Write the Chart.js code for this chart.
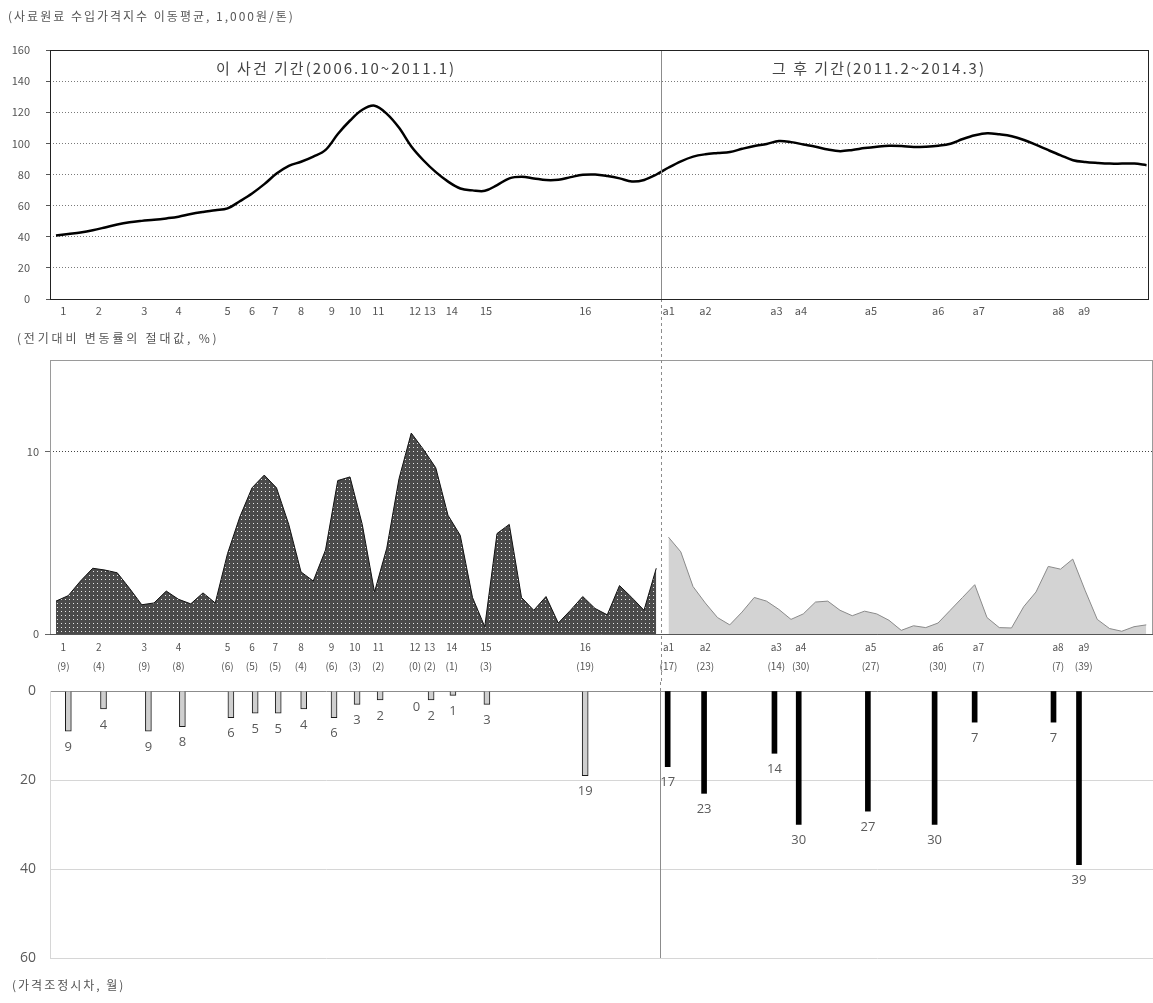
<!DOCTYPE html>
<html>
<head>
<meta charset="utf-8">
<script src="https://cdn.jsdelivr.net/npm/chart.js@4.4.0/dist/chart.umd.min.js"></script>
<style>
  html, body { margin: 0; padding: 0; background: #fff; }
  #wrap { position: relative; width: 1153px; height: 1003px; overflow: hidden; background: #fff; }
  #wrap canvas { position: absolute; left: 0; }
  #cPrice { top: 0; }
  #cChange { top: 330px; }
  #cLag { top: 682px; }
</style>
</head>
<body>
<div id="wrap">
  <canvas id="cPrice" width="1153" height="330"></canvas>
  <canvas id="cChange" width="1153" height="352"></canvas>
  <canvas id="cLag" width="1153" height="321"></canvas>
</div>
<script>
// Monthly moving-average feed import price index, 2006.10 ~ 2014.3 (month index 0..89)
const priceIndex = [
  40.8, 41.8, 42.8, 44.2, 46.0, 47.9, 49.3, 50.2, 50.9, 51.8,
  52.9, 54.6, 55.9, 57.0, 58.2, 62.8, 67.8, 73.8, 80.6, 85.6,
  88.2, 91.5, 95.8, 106.0, 114.7, 121.6, 124.2, 119.0, 110.0, 98.0,
  89.0, 81.5, 75.4, 71.0, 69.8, 69.5, 73.2, 77.5, 78.5, 77.5,
  76.4, 76.6, 78.3, 79.8, 80.0, 79.0, 77.5, 75.5, 76.5, 80.0,
  84.5, 88.5, 91.5, 93.0, 93.8, 94.5, 96.5, 98.3, 99.6, 101.5,
  100.8, 99.3, 97.8, 96.0, 95.0, 95.8, 97.0, 97.9, 98.5, 98.3,
  97.7, 97.9, 98.5, 99.8, 102.8, 105.2, 106.5, 105.8, 104.6, 102.2,
  99.0, 95.6, 92.3, 89.2, 88.0, 87.4, 87.0, 87.0, 87.0, 86.0
];

// Absolute month-on-month change (%), case period (months 0..49) and later period (months 50..89)
const changeBefore = [
  1.8, 2.1, 2.9, 3.6, 3.5, 3.35, 2.5, 1.6, 1.7, 2.35,
  1.9, 1.65, 2.25, 1.7, 4.4, 6.4, 8.0, 8.7, 8.0, 6.0,
  3.4, 2.9, 4.6, 8.4, 8.6, 6.0, 2.3, 4.7, 8.5, 11.0,
  10.1, 9.1, 6.5, 5.4, 2.0, 0.4, 5.5, 6.0, 2.0, 1.3,
  2.05, 0.6, 1.3, 2.05, 1.4, 1.05, 2.65, 2.0, 1.3, 3.6
];
const changeAfter = [
  5.3, 4.5, 2.6, 1.7, 0.9, 0.5, 1.2, 2.0, 1.8, 1.35,
  0.8, 1.1, 1.75, 1.8, 1.3, 1.0, 1.25, 1.1, 0.75, 0.2,
  0.45, 0.35, 0.6, 1.3, 2.0, 2.7, 0.9, 0.35, 0.33, 1.5,
  2.3, 3.7, 3.55, 4.1, 2.4, 0.8, 0.3, 0.15, 0.4, 0.5
];
const afterStart = 50;

// Price adjustments: timing (month index), label and lag (months)
const eventLabelsBefore = ['1','2','3','4','5','6','7','8','9','10','11','12','13','14','15','16'];
const eventPosBefore = [0.6, 3.5, 7.2, 10.0, 14.0, 16.0, 17.9, 20.0, 22.5, 24.4, 26.3, 29.3, 30.5, 32.3, 35.1, 43.2];
const lagBefore = [9, 4, 9, 8, 6, 5, 5, 4, 6, 3, 2, 0, 2, 1, 3, 19];

const eventLabelsAfter = ['a1','a2','a3','a4','a5','a6','a7','a8','a9'];
const eventPosAfter = [50.0, 53.0, 58.8, 60.8, 66.5, 72.0, 75.3, 81.8, 83.9];
const lagAfter = [17, 23, 14, 30, 27, 30, 7, 7, 39];

// Boundary between the two periods (month index)
const periodSplit = 49.4;

const priceTicks = [0, 20, 40, 60, 80, 100, 120, 140, 160];
const changeTicks = [0, 10];
const lagTicks = [0, 20, 40, 60];

const headerPrice = '(사료원료 수입가격지수 이동평균, 1,000원/톤)';
const periodTitles = ['이 사건 기간(2006.10~2011.1)', '그 후 기간(2011.2~2014.3)'];
const headerChange = '(전기대비 변동률의 절대값, %)';
const headerLag = '(가격조정시차, 월)';

// ---------------------------------------------------------------
const SANS = "'Noto Sans CJK KR', 'DejaVu Sans', sans-serif";
const OPEN = "'Open Sans', 'DejaVu Sans', sans-serif";
const allEventPos = eventPosBefore.concat(eventPosAfter);
const allEventLabels = eventLabelsBefore.concat(eventLabelsAfter);
const allLags = lagBefore.concat(lagAfter);

const common = {
  responsive: false,
  animation: false,
  events: [],
  plugins: { legend: { display: false }, tooltip: { enabled: false } }
};

function dividerX(chart) {
  return Math.round(chart.scales.x.getPixelForValue(periodSplit)) + 0.5;
}

function drawHeader(ctx, text, x, y, size, spacing) {
  ctx.save();
  ctx.fillStyle = '#555';
  ctx.font = size + 'px ' + SANS;
  ctx.letterSpacing = spacing + 'px';
  ctx.textAlign = 'left';
  ctx.textBaseline = 'middle';
  ctx.fillText(text, x, y);
  ctx.restore();
}

// fixed axis box: no extra room reserved for overhanging tick labels
function fixVertical(width) {
  return s => { s.width = width; s.paddingTop = 0; s.paddingBottom = 0; };
}

// ---------------- Top panel: price index line ----------------
const priceDecor = {
  id: 'priceDecor',
  afterDatasetsDraw(chart) {
    const { ctx, chartArea: a } = chart;
    const dx = dividerX(chart);
    ctx.save();
    ctx.lineWidth = 1;
    ctx.strokeStyle = '#8c8c8c';
    ctx.beginPath(); ctx.moveTo(dx, a.top); ctx.lineTo(dx, a.bottom); ctx.stroke();
    ctx.setLineDash([3, 3]);
    ctx.beginPath(); ctx.moveTo(dx, a.bottom); ctx.lineTo(dx, chart.height); ctx.stroke();
    ctx.setLineDash([]);
    ctx.strokeStyle = '#222';
    ctx.strokeRect(Math.round(a.left) + 0.5, Math.round(a.top) + 0.5,
                   Math.round(a.right - a.left) - 1, Math.round(a.bottom - a.top));
    ctx.fillStyle = '#444';
    ctx.font = '15px ' + SANS;
    ctx.letterSpacing = '2px';
    ctx.textAlign = 'center';
    ctx.textBaseline = 'middle';
    ctx.fillText(periodTitles[0], a.left + 286, a.top + 18);
    ctx.fillText(periodTitles[1], a.left + 829, a.top + 18);
    ctx.restore();
    drawHeader(ctx, headerPrice, 8, 16, 12, 2);
  }
};

new Chart(document.getElementById('cPrice'), {
  type: 'line',
  data: {
    datasets: [{
      data: priceIndex.map((v, i) => ({ x: i, y: v })),
      borderColor: '#000',
      borderWidth: 2.5,
      pointRadius: 0,
      tension: 0.35,
      fill: false
    }]
  },
  options: {
    ...common,
    layout: { padding: { left: 0, right: 4, top: 50, bottom: 0 } },
    scales: {
      x: {
        type: 'linear', min: -0.49, max: 89.2,
        afterBuildTicks: s => { s.ticks = allEventPos.map(v => ({ value: v })); },
        afterFit: s => { s.height = 31; },
        ticks: {
          autoSkip: false, maxRotation: 0, padding: -3,
          color: '#555', font: { family: SANS, size: 11 },
          callback: (v, i) => allEventLabels[i]
        },
        grid: { display: false },
        border: { display: false }
      },
      y: {
        min: 0, max: 160,
        afterBuildTicks: s => { s.ticks = priceTicks.map(v => ({ value: v })); },
        afterFit: fixVertical(50),
        ticks: { padding: 16, color: '#555', font: { family: SANS, size: 11 } },
        grid: { color: '#7a7a7a', tickLength: 4, tickColor: '#555', tickBorderDash: [] },
        border: { display: false, dash: [1, 2] }
      }
    }
  },
  plugins: [priceDecor]
});

// ---------------- Middle panel: change rate areas ----------------
const tile = document.createElement('canvas');
tile.width = 4; tile.height = 4;
const tctx = tile.getContext('2d');
tctx.fillStyle = '#4a4a4a'; tctx.fillRect(0, 0, 4, 4);
tctx.fillStyle = '#e6e6e6'; tctx.fillRect(1, 1, 1, 1);
const dotted = document.createElement('canvas').getContext('2d').createPattern(tile, 'repeat');

const changeDecor = {
  id: 'changeDecor',
  beforeDatasetsDraw(chart) {
    const { ctx, chartArea: a } = chart;
    ctx.save();
    ctx.strokeStyle = '#9a9a9a';
    ctx.lineWidth = 1;
    ctx.strokeRect(Math.round(a.left) + 0.5, Math.round(a.top) + 0.5,
                   Math.round(a.right - a.left) - 1, Math.round(a.bottom - a.top));
    ctx.restore();
  },
  afterDatasetsDraw(chart) {
    const { ctx, chartArea: a } = chart;
    const dx = dividerX(chart);
    ctx.save();
    ctx.strokeStyle = '#8c8c8c';
    ctx.lineWidth = 1;
    ctx.setLineDash([3, 3]);
    ctx.beginPath(); ctx.moveTo(dx, 0); ctx.lineTo(dx, chart.height); ctx.stroke();
    ctx.setLineDash([]);
    ctx.strokeStyle = '#555';
    ctx.beginPath(); ctx.moveTo(a.left, Math.round(a.bottom) + 0.5); ctx.lineTo(a.right, Math.round(a.bottom) + 0.5); ctx.stroke();
    ctx.restore();
    drawHeader(ctx, headerChange, 17, 8, 12, 2.8);
  }
};

new Chart(document.getElementById('cChange'), {
  type: 'line',
  data: {
    datasets: [
      {
        data: changeBefore.map((v, i) => ({ x: i, y: v })),
        fill: 'origin',
        backgroundColor: dotted,
        borderColor: '#111',
        borderWidth: 1,
        pointRadius: 0,
        tension: 0
      },
      {
        data: changeAfter.map((v, i) => ({ x: i + afterStart, y: v })),
        fill: 'origin',
        backgroundColor: '#d3d3d3',
        borderColor: '#8a8a8a',
        borderWidth: 1,
        pointRadius: 0,
        tension: 0
      }
    ]
  },
  options: {
    ...common,
    layout: { padding: { left: 0, right: 0, top: 30, bottom: 0 } },
    scales: {
      x: {
        type: 'linear', min: -0.49, max: 89.55,
        afterBuildTicks: s => { s.ticks = allEventPos.map(v => ({ value: v })); },
        afterFit: s => { s.height = 48; },
        ticks: {
          autoSkip: false, maxRotation: 0, padding: -4,
          color: '#555', font: { family: SANS, size: 10, lineHeight: 1.9 },
          callback: (v, i) => [allEventLabels[i], '(' + allLags[i] + ')']
        },
        grid: { display: false },
        border: { display: false }
      },
      y: {
        min: 0, max: 15,
        afterBuildTicks: s => { s.ticks = changeTicks.map(v => ({ value: v })); },
        afterFit: fixVertical(50),
        ticks: { padding: 6, color: '#555', font: { family: SANS, size: 11 } },
        grid: {
          color: c => (c.tick && c.tick.value === 10) ? '#444' : 'rgba(0,0,0,0)',
          tickLength: 5, tickColor: '#666', tickBorderDash: []
        },
        border: { display: false, dash: [1, 2] }
      }
    }
  },
  plugins: [changeDecor]
});

// ---------------- Bottom panel: price adjustment lags ----------------
const lagDecor = {
  id: 'lagDecor',
  afterDatasetsDraw(chart) {
    const { ctx, chartArea: a } = chart;
    const dx = dividerX(chart);
    ctx.save();
    ctx.strokeStyle = '#8c8c8c';
    ctx.lineWidth = 1;
    ctx.setLineDash([3, 3]);
    ctx.beginPath(); ctx.moveTo(dx, 0); ctx.lineTo(dx, a.top); ctx.stroke();
    ctx.setLineDash([]);
    ctx.beginPath(); ctx.moveTo(dx, a.top); ctx.lineTo(dx, a.bottom); ctx.stroke();

    ctx.fillStyle = '#5a5a5a';
    ctx.font = '13px ' + OPEN;
    ctx.textAlign = 'center';
    ctx.textBaseline = 'middle';
    chart.data.datasets.forEach((ds, di) => {
      chart.getDatasetMeta(di).data.forEach((el, i) => {
        ctx.fillText(String(ds.data[i].y), el.x, el.y + 16);
      });
    });
    ctx.restore();
    drawHeader(ctx, headerLag, 12, 303, 12, 2);
  }
};

new Chart(document.getElementById('cLag'), {
  type: 'bar',
  data: {
    datasets: [
      {
        data: eventPosBefore.map((x, i) => ({ x: x, y: lagBefore[i] })),
        backgroundColor: '#cfcfcf',
        borderColor: '#1a1a1a',
        borderWidth: 1,
        barThickness: 6,
        grouped: false
      },
      {
        data: eventPosAfter.map((x, i) => ({ x: x, y: lagAfter[i] })),
        backgroundColor: '#000',
        borderWidth: 0,
        barThickness: 5,
        grouped: false
      }
    ]
  },
  options: {
    ...common,
    layout: { padding: { left: 0, right: 0, top: 9, bottom: 45 } },
    scales: {
      x: { type: 'linear', display: false, offset: false, min: -0.91, max: 90.0 },
      y: {
        reverse: true, min: 0, max: 60,
        afterBuildTicks: s => { s.ticks = lagTicks.map(v => ({ value: v })); },
        afterFit: fixVertical(50),
        ticks: { padding: 14, color: '#5a5a5a', font: { family: OPEN, size: 14 } },
        grid: {
          drawTicks: false,
          color: c => (c.tick && c.tick.value === 0) ? '#8c8c8c' : '#d6d6d6'
        },
        border: { color: '#d6d6d6' }
      }
    }
  },
  plugins: [lagDecor]
});
</script>
</body>
</html>
